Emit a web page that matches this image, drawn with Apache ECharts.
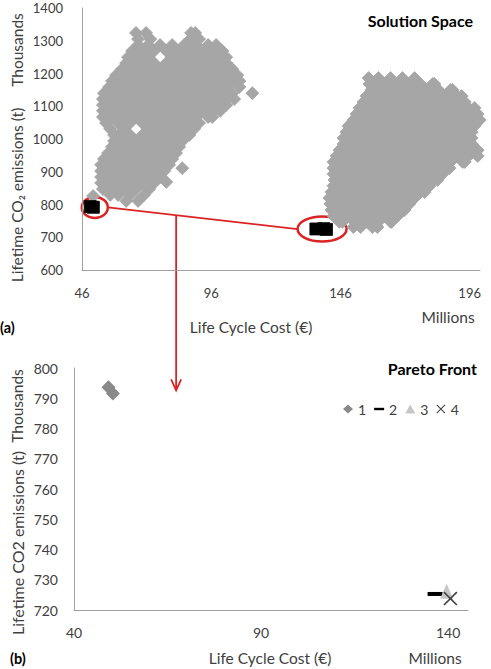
<!DOCTYPE html>
<html>
<head>
<meta charset="utf-8">
<script src="https://cdn.jsdelivr.net/npm/echarts@6/dist/echarts.min.js"></script>
<style>
html,body{margin:0;padding:0;background:#fff}
#main{width:491px;height:669px}
</style>
</head>
<body>
<div id="main"></div>
<script>
// axis ticks
const costTicksA = [46, 96, 146, 196]
const emisTicksA = [600, 700, 800, 900, 1000, 1100, 1200, 1300, 1400]
const costTicksB = [40, 90, 140]
const emisTicksB = [720, 730, 740, 750, 760, 770, 780, 790, 800]

// solution space, read row by row: [emissions, [costs...]]
const spaceLow = [
    [1324, [66.9, 70.8, 88.2, 89.8]],
    [1305, [67.7, 72.4, 87.9, 91.3]],
    [1287, [67.7, 71.6, 76.2, 80.9, 85.5, 90.2, 94.8, 97.9]],
    [1269, [65.4, 69.3, 73.9, 78.6, 83.2, 87.9, 92.5, 97.2, 100.3]],
    [1250, [63.8, 66.9, 71.6, 80.9, 85.5, 90.2, 94.8, 99.5, 101.8]],
    [1232, [63.1, 64.6, 69.3, 73.9, 78.6, 83.2, 87.9, 92.5, 97.2, 101.8]],
    [1214, [61.5, 62.3, 66.9, 71.6, 76.2, 80.9, 85.5, 90.2, 94.8, 99.5, 104.1]],
    [1195, [59.2, 60.0, 64.6, 69.3, 73.9, 78.6, 83.2, 87.9, 92.5, 97.2, 101.8, 106.1]],
    [1177, [57.6, 62.3, 66.9, 71.6, 76.2, 80.9, 85.5, 90.2, 94.8, 99.5, 104.1, 106.9]],
    [1159, [56.5, 60.0, 64.6, 69.3, 73.9, 78.6, 83.2, 87.9, 92.5, 97.2, 101.8, 106.9]],
    [1140, [54.5, 57.6, 62.3, 66.9, 71.6, 76.2, 80.9, 85.5, 90.2, 94.8, 99.5, 104.1, 111.9]],
    [1122, [54.1, 55.3, 60.0, 64.6, 69.3, 73.9, 78.6, 83.2, 87.9, 92.5, 97.2, 101.8, 104.9]],
    [1104, [54.1, 57.6, 62.3, 66.9, 71.6, 76.2, 80.9, 85.5, 90.2, 94.8, 99.5, 101.8]],
    [1086, [54.1, 55.3, 60.0, 64.6, 69.3, 73.9, 78.6, 83.2, 87.9, 92.5, 97.2, 99.5]],
    [1067, [54.1, 57.6, 62.3, 66.9, 71.6, 76.2, 80.9, 85.5, 90.2, 94.8, 96.4]],
    [1049, [55.3, 60.0, 64.6, 69.3, 73.9, 78.6, 83.2, 87.9, 91.3]],
    [1031, [56.9, 62.3, 71.6, 76.2, 80.9, 85.5, 89.4]],
    [1012, [58.4, 60.0, 64.6, 69.3, 73.9, 78.6, 83.2, 87.5]],
    [994, [58.4, 62.3, 66.9, 71.6, 76.2, 80.9, 84.8]],
    [976, [57.6, 60.0, 64.6, 69.3, 73.9, 78.6, 83.6]],
    [957, [56.1, 57.6, 62.3, 66.9, 71.6, 76.2, 80.9, 82.4]],
    [939, [54.5, 55.3, 60.0, 64.6, 69.3, 73.9, 78.6, 80.9]],
    [921, [53.4, 57.6, 62.3, 66.9, 71.6, 76.2, 79.7]],
    [911, [84.8]],
    [902, [53.4, 55.3, 60.0, 64.6, 69.3, 73.9, 77.8]],
    [884, [53.4, 57.6, 62.3, 66.9, 71.6, 76.2]],
    [869, [78.6]],
    [866, [53.4, 55.3, 60.0, 64.6, 69.3, 73.9]],
    [847, [54.1, 57.6, 62.3, 66.9, 72.0]],
    [829, [56.9, 60.0, 64.6, 70.0]],
    [826, [50.3]],
    [811, [63.1, 67.7]]
]
const spaceHigh = [
    [1186, [156.9, 160.7, 165.4, 170.0, 174.7]],
    [1168, [157.2, 158.4, 163.1, 167.7, 172.4, 177.0, 181.7, 182.4]],
    [1150, [158.0, 160.7, 165.4, 170.0, 174.7, 179.3, 184.0, 188.6, 189.4]],
    [1131, [156.1, 158.4, 163.1, 167.7, 172.4, 177.0, 181.7, 186.3, 191.0, 192.9]],
    [1113, [154.9, 156.1, 160.7, 165.4, 170.0, 174.7, 179.3, 184.0, 188.6, 193.3, 194.1]],
    [1095, [153.4, 153.8, 158.4, 163.1, 167.7, 172.4, 177.0, 181.7, 186.3, 191.0, 195.6, 197.9]],
    [1076, [152.2, 156.1, 160.7, 165.4, 170.0, 174.7, 179.3, 184.0, 188.6, 193.3, 197.9, 199.1]],
    [1058, [151.0, 153.8, 158.4, 163.1, 167.7, 172.4, 177.0, 181.7, 186.3, 191.0, 195.6, 199.9]],
    [1040, [149.1, 151.4, 156.1, 160.7, 165.4, 170.0, 174.7, 179.3, 184.0, 188.6, 193.3, 197.9]],
    [1021, [148.3, 149.1, 153.8, 158.4, 163.1, 167.7, 172.4, 177.0, 181.7, 186.3, 191.0, 195.6, 196.8]],
    [1003, [147.2, 151.4, 156.1, 160.7, 165.4, 170.0, 174.7, 179.3, 184.0, 188.6, 193.3, 196.8]],
    [985, [147.2, 149.1, 153.8, 158.4, 163.1, 167.7, 172.4, 177.0, 181.7, 186.3, 191.0, 195.6, 196.8]],
    [966, [145.6, 146.8, 151.4, 156.1, 160.7, 165.4, 170.0, 174.7, 179.3, 184.0, 188.6, 193.3, 197.9, 199.1]],
    [948, [144.5, 149.1, 153.8, 158.4, 163.1, 167.7, 172.4, 177.0, 181.7, 186.3, 191.0, 195.6, 199.1]],
    [930, [143.3, 146.8, 151.4, 156.1, 160.7, 165.4, 170.0, 174.7, 179.3, 184.0, 188.6, 193.3, 194.1]],
    [911, [143.3, 144.5, 149.1, 153.8, 158.4, 163.1, 167.7, 172.4, 177.0, 181.7, 186.3, 188.2]],
    [893, [143.3, 146.8, 151.4, 156.1, 160.7, 165.4, 170.0, 174.7, 179.3, 184.0, 185.5]],
    [875, [143.7, 144.5, 149.1, 153.8, 158.4, 163.1, 167.7, 172.4, 177.0, 181.7, 183.6]],
    [857, [143.3, 146.8, 151.4, 156.1, 160.7, 165.4, 170.0, 174.7, 179.3, 180.5]],
    [838, [142.5, 144.5, 149.1, 153.8, 158.4, 163.1, 167.7, 172.4, 177.0, 178.6]],
    [820, [141.7, 146.8, 151.4, 156.1, 160.7, 165.4, 170.0, 174.7]],
    [802, [142.1, 144.5, 149.1, 153.8, 158.4, 163.1, 167.7, 172.4, 172.7]],
    [783, [142.5, 146.8, 151.4, 156.1, 160.7, 165.4, 170.0, 170.8]],
    [765, [143.3, 144.5, 149.1, 153.8, 158.4, 163.1, 167.7, 168.1]],
    [747, [145.6, 146.8, 151.4, 156.1, 160.7, 165.4, 165.8]],
    [731, [151.0, 153.8, 158.4, 160.3]]
]

// pareto front [cost, emissions]
const front1 = [[49.2, 793.6], [50.4, 791.6]]
const front2 = [[136.5, 725.3]]
const front3 = [[139.6, 726.2]]
const front4 = [[140.6, 723.8]]

const FONT = 'Lato, "Open Sans", sans-serif'
const TXT = '#404040'
const RED = '#dc2323'
const GREY = '#a6a6a6'
const crossPath = 'path://M0,0.8L0.8,0L5,4.2L9.2,0L10,0.8L5.8,5L10,9.2L9.2,10L5,5.8L0.8,10L0,9.2L4.2,5Z'

const rowsToPoints = rows => rows.flatMap(r => r[1].map(x => [x, r[0]]))

function axis(gridIndex, min, max, ticks, margin) {
    return {
        type: 'value',
        gridIndex: gridIndex,
        min: min,
        max: max,
        axisLine: { show: true, lineStyle: { color: '#a0a0a0' } },
        axisTick: { show: false },
        splitLine: { show: false },
        axisLabel: {
            customValues: ticks,
            margin: margin,
            color: TXT,
            fontFamily: FONT,
            fontSize: gridIndex == 0 ? 13 : 14,
            formatter: v => String(v)
        }
    }
}

const myChart = echarts.init(document.getElementById('main'), null, { renderer: 'svg' })

const option = {
    animation: false,
    grid: [
        { left: 82, top: 8, width: 398, height: 262 },
        { left: 74, top: 368, width: 394, height: 242 }
    ],
    xAxis: [
        axis(0, 46, 200, costTicksA, 16),
        axis(1, 40, 145.3, costTicksB, 15)
    ],
    yAxis: [
        axis(0, 600, 1400, emisTicksA, 19),
        axis(1, 720, 800, emisTicksB, 16)
    ],
    legend: {
        data: [
            { name: '1', icon: 'diamond' },
            { name: '2', icon: 'path://M0,0H10V2.4H0Z' },
            { name: '3', icon: 'triangle' },
            { name: '4', icon: crossPath }
        ],
        left: 338,
        top: 397,
        itemWidth: 10,
        itemHeight: 9,
        itemGap: 8,
        symbolKeepAspect: true,
        textStyle: { color: TXT, fontFamily: FONT, fontSize: 14 }
    },
    series: [
        {
            type: 'scatter', xAxisIndex: 0, yAxisIndex: 0, silent: true,
            symbol: 'diamond', symbolSize: 13,
            itemStyle: { color: GREY, borderColor: GREY, borderWidth: 0.8, opacity: 1 },
            data: rowsToPoints(spaceLow)
        },
        {
            type: 'scatter', xAxisIndex: 0, yAxisIndex: 0, silent: true,
            symbol: 'diamond', symbolSize: 13,
            itemStyle: { color: GREY, borderColor: GREY, borderWidth: 0.8, opacity: 1 },
            data: rowsToPoints(spaceHigh)
        },
        {
            // pareto solutions inside the solution space
            type: 'scatter', xAxisIndex: 0, yAxisIndex: 0, silent: true,
            symbol: 'rect', symbolSize: 12,
            itemStyle: { color: '#000', borderColor: '#000', borderWidth: 0.8, opacity: 1 },
            data: front1.concat(front2, front3, front4)
        },
        {
            name: '1', type: 'scatter', xAxisIndex: 1, yAxisIndex: 1,
            symbol: 'diamond', symbolSize: 14,
            itemStyle: { color: '#898989', opacity: 1 },
            data: front1
        },
        {
            name: '2', type: 'scatter', xAxisIndex: 1, yAxisIndex: 1,
            symbol: 'rect', symbolSize: [15, 4],
            itemStyle: { color: '#000', opacity: 1 },
            data: front2
        },
        {
            name: '3', type: 'scatter', xAxisIndex: 1, yAxisIndex: 1,
            symbol: 'triangle', symbolSize: [13, 15],
            itemStyle: { color: '#c6c6c6', opacity: 1 },
            data: front3
        },
        {
            name: '4', type: 'scatter', xAxisIndex: 1, yAxisIndex: 1,
            symbol: crossPath, symbolSize: 14,
            itemStyle: { color: '#404040', opacity: 1 },
            data: front4
        }
    ]
}
myChart.setOption(option)

// annotations: ellipses round the pareto points and the arrow down to the front
const mean = pts => [
    pts.reduce((s, p) => s + p[0], 0) / pts.length,
    pts.reduce((s, p) => s + p[1], 0) / pts.length
]
const c1 = myChart.convertToPixel({ gridIndex: 0 }, mean(front1))
const c2 = myChart.convertToPixel({ gridIndex: 0 }, mean(front2.concat(front3, front4)))
const tip = myChart.convertToPixel({ gridIndex: 1 }, mean(front1))
const e1 = { cx: c1[0] + 3, cy: c1[1] + 0.5, rx: 13, ry: 10.5 }
const e2 = { cx: c2[0], cy: c2[1], rx: 24.5, ry: 12.5 }
const p1 = [e1.cx + e1.rx, e1.cy]
const p2 = [e2.cx - e2.rx, e2.cy]
const ax = p1[0] + (p2[0] - p1[0]) * 0.36
const ay = p1[1] + (p2[1] - p1[1]) * 0.36

function label(text, x, y, opts) {
    return {
        type: 'text', x: x, y: y, rotation: opts.rot || 0, silent: true,
        style: {
            text: text, fill: opts.color || TXT, fontFamily: FONT,
            fontSize: opts.size || 15.5, fontWeight: opts.bold ? 'bold' : 'normal',
            align: opts.align || 'center', verticalAlign: 'middle'
        }
    }
}

myChart.setOption({
    graphic: [
        { type: 'ellipse', shape: e1, style: { fill: 'none', stroke: RED, lineWidth: 2.5 }, silent: true },
        { type: 'ellipse', shape: e2, style: { fill: 'none', stroke: RED, lineWidth: 2.5 }, silent: true },
        { type: 'line', shape: { x1: p1[0], y1: p1[1], x2: p2[0], y2: p2[1] }, style: { stroke: RED, lineWidth: 1.8 }, silent: true },
        { type: 'line', shape: { x1: ax, y1: ay, x2: ax, y2: tip[1] }, style: { stroke: RED, lineWidth: 1.8 }, silent: true },
        { type: 'polyline', shape: { points: [[ax - 5, tip[1] - 11], [ax, tip[1]], [ax + 5, tip[1] - 11]] }, style: { stroke: RED, lineWidth: 1.8, fill: 'none' }, silent: true },

        label('Solution Space', 473, 20, { bold: true, color: '#000', align: 'right', size: 16 }),
        label('Life Cycle Cost (€)', 251, 327, {}),
        label('Millions', 448, 317, {}),
        label('(a)', 0, 327, { bold: true, color: '#000', align: 'left', size: 14.5 }),
        label('Lifetime CO₂ emissions (t)', 17, 195, { rot: Math.PI / 2 }),
        label('Thousands', 17, 50, { rot: Math.PI / 2 }),

        label('Pareto Front', 477, 368, { bold: true, color: '#000', align: 'right', size: 16 }),
        label('Life Cycle Cost (€)', 270, 658, {}),
        label('Millions', 435, 658, {}),
        label('(b)', 10, 658, { bold: true, color: '#000', align: 'left', size: 14.5 }),
        label('Lifetime CO2 emissions (t)', 17, 543, { rot: Math.PI / 2, size: 16 }),
        label('Thousands', 17, 406, { rot: Math.PI / 2 })
    ]
})
</script>
</body>
</html>
